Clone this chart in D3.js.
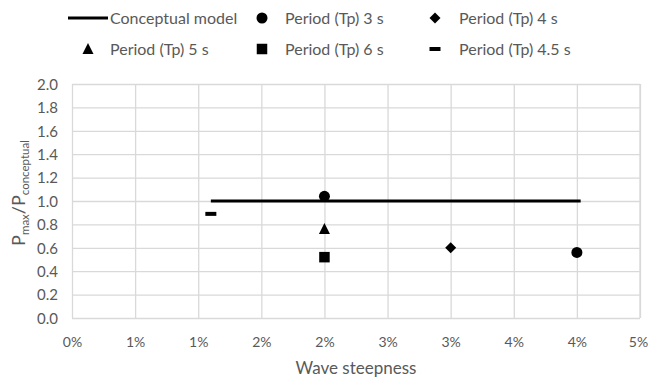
<!DOCTYPE html>
<html>
<head>
<meta charset="utf-8">
<script src="https://cdn.jsdelivr.net/npm/d3@7"></script>
<style>
  html, body { margin: 0; padding: 0; background: #fff; }
  svg { display: block; font-family: Lato, "Open Sans", sans-serif; }
</style>
</head>
<body>
<svg id="chart" width="649" height="380"></svg>
<script>
// Axis ticks and labels (labels are whole-percent rounded)
const xTicks = [0, 0.005, 0.01, 0.015, 0.02, 0.025, 0.03, 0.035, 0.04, 0.045];
const xTickLabels = ["0%", "1%", "1%", "2%", "2%", "3%", "3%", "4%", "4%", "5%"];
const yTicks = [0, 0.2, 0.4, 0.6, 0.8, 1.0, 1.2, 1.4, 1.6, 1.8, 2.0];
const yTickLabels = ["0.0", "0.2", "0.4", "0.6", "0.8", "1.0", "1.2", "1.4", "1.6", "1.8", "2.0"];

// Conceptual model line
const conceptualX = [0.011, 0.0403];
const conceptualY = [1.0, 1.0];

// Measured ratios per wave period
const tp3X = [0.02, 0.04];
const tp3Y = [1.04, 0.56];
const tp4X = [0.03];
const tp4Y = [0.60];
const tp5X = [0.02];
const tp5Y = [0.76];
const tp6X = [0.02];
const tp6Y = [0.52];
const tp45X = [0.011];
const tp45Y = [0.89];

const series = [
  { name: "Period (Tp) 3 s", shape: "circle", xs: tp3X, ys: tp3Y },
  { name: "Period (Tp) 4 s", shape: "diamond", xs: tp4X, ys: tp4Y },
  { name: "Period (Tp) 5 s", shape: "triangle", xs: tp5X, ys: tp5Y },
  { name: "Period (Tp) 6 s", shape: "square", xs: tp6X, ys: tp6Y },
  { name: "Period (Tp) 4.5 s", shape: "dash", xs: tp45X, ys: tp45Y }
];

const svg = d3.select("#chart");
const plot = { left: 72, right: 640, top: 84, bottom: 318 };
const textGrey = "#595959";
const gridGrey = "#d9d9d9";

const x = d3.scaleLinear().domain([0, 0.045]).range([plot.left, plot.right]);
const y = d3.scaleLinear().domain([0, 2]).range([plot.bottom, plot.top]);

// Gridlines and tick labels
const xAxis = d3.axisBottom(x).tickValues(xTicks)
  .tickFormat((d, i) => xTickLabels[i]).tickSize(-(plot.bottom - plot.top)).tickSizeOuter(0);
const yAxis = d3.axisLeft(y).tickValues(yTicks)
  .tickFormat((d, i) => yTickLabels[i]).tickSize(-(plot.right - plot.left)).tickSizeOuter(0);

const gx = svg.append("g").attr("transform", `translate(0,${plot.bottom})`).call(xAxis);
gx.select(".domain").remove();
gx.selectAll(".tick line").attr("stroke", gridGrey).attr("stroke-width", 1.3);
gx.selectAll(".tick text").attr("fill", textGrey).attr("font-size", 14)
  .attr("font-family", "Lato, sans-serif").attr("dy", 0).attr("y", 29)
  .attr("dx", (d, i) => i === xTicks.length - 1 ? -2 : 0);

const gy = svg.append("g").attr("transform", `translate(${plot.left},0)`).call(yAxis);
gy.select(".domain").remove();
gy.selectAll(".tick line").attr("stroke", gridGrey).attr("stroke-width", 1.3);
gy.selectAll(".tick text").attr("fill", textGrey).attr("font-size", 15)
  .attr("font-family", "Lato, sans-serif").attr("x", -14).attr("dy", "0.35em");

// Right border line of the plot area
svg.append("line")
  .attr("x1", x(0.045)).attr("x2", x(0.045))
  .attr("y1", y(0)).attr("y2", y(2))
  .attr("stroke", gridGrey).attr("stroke-width", 1.3);

// Marker generator
function drawMarker(g, shape, cx, cy) {
  if (shape === "circle") {
    g.append("circle").attr("cx", cx).attr("cy", cy).attr("r", 5.5).attr("fill", "#000");
  } else if (shape === "diamond") {
    const s = 5.5;
    g.append("path").attr("d", `M${cx},${cy - s}L${cx + s},${cy}L${cx},${cy + s}L${cx - s},${cy}Z`).attr("fill", "#000");
  } else if (shape === "triangle") {
    const h = 10, w = 11;
    g.append("path").attr("d", `M${cx},${cy - h / 2 - 1}L${cx + w / 2},${cy + h / 2}L${cx - w / 2},${cy + h / 2}Z`).attr("fill", "#000");
  } else if (shape === "square") {
    const s = 10.5;
    g.append("rect").attr("x", cx - s / 2).attr("y", cy - s / 2).attr("width", s).attr("height", s).attr("fill", "#000");
  } else if (shape === "dash") {
    g.append("rect").attr("x", cx - 5.5).attr("y", cy - 2).attr("width", 11).attr("height", 4).attr("fill", "#000");
  }
}

// Conceptual model line
const line = d3.line().x(d => x(d[0])).y(d => y(d[1]));
svg.append("path")
  .datum(d3.zip(conceptualX, conceptualY))
  .attr("d", line).attr("fill", "none").attr("stroke", "#000").attr("stroke-width", 3);

// Data markers
const marks = svg.append("g");
series.forEach(s => {
  s.xs.forEach((v, i) => drawMarker(marks, s.shape, x(v), y(s.ys[i])));
});

// Legend
const legend = svg.append("g").attr("font-size", 16).attr("fill", textGrey);
const legendItems = [
  { kind: "line", name: "Conceptual model", sx: 88, tx: 110, ly: 18 },
  { kind: "circle", name: series[0].name, sx: 262, tx: 285, ly: 18 },
  { kind: "diamond", name: series[1].name, sx: 435, tx: 459, ly: 18 },
  { kind: "triangle", name: series[2].name, sx: 88, tx: 110, ly: 49 },
  { kind: "square", name: series[3].name, sx: 262, tx: 285, ly: 49 },
  { kind: "dash", name: series[4].name, sx: 435, tx: 459, ly: 49 }
];
legendItems.forEach(it => {
  if (it.kind === "line") {
    legend.append("line").attr("x1", it.sx - 20).attr("x2", it.sx + 20)
      .attr("y1", it.ly).attr("y2", it.ly).attr("stroke", "#000").attr("stroke-width", 3);
  } else {
    drawMarker(legend, it.kind, it.sx, it.ly);
  }
  legend.append("text").attr("x", it.tx).attr("y", it.ly).attr("dy", "0.35em").text(it.name);
});

// Axis titles
svg.append("text")
  .attr("x", (plot.left + plot.right) / 2).attr("y", 374)
  .attr("text-anchor", "middle").attr("fill", textGrey).attr("font-size", 17)
  .text("Wave steepness");

const yTitle = svg.append("text")
  .attr("transform", "translate(25,193) rotate(-90)")
  .attr("text-anchor", "middle").attr("fill", textGrey).attr("font-size", 18);
yTitle.append("tspan").text("P");
yTitle.append("tspan").attr("font-size", 11.5).attr("dy", 4).text("max");
yTitle.append("tspan").attr("dy", -4).text("/P");
yTitle.append("tspan").attr("font-size", 11.5).attr("dy", 4).text("conceptual");
</script>
</body>
</html>
